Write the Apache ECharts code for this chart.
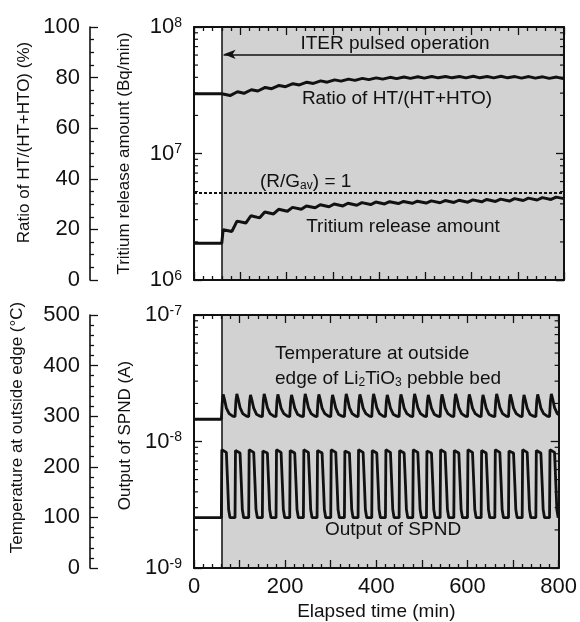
<!DOCTYPE html>
<html>
<head>
<meta charset="utf-8">
<script src="https://cdn.jsdelivr.net/npm/echarts@6/dist/echarts.min.js"></script>
<style>html,body{margin:0;padding:0;background:#fff}#chart{width:580px;height:622px}</style>
</head>
<body>
<div id="chart"></div>
<script>
var FONT = '"Liberation Sans", Arial, sans-serif';
var INK = '#111';

// elapsed time window and start of ITER pulsed operation (min)
var timeRange = [0, 800];
var pulseStart = 60;
var xTickLabels = [0, 200, 400, 600, 800];

// top panel: ratio HT/(HT+HTO) in %  [time, value]
var ratioData = [
    [0, 73.6], [60, 73.6],
    [64, 73.9], [78, 72.9], [94, 74.4], [108, 73.8], [124, 75.2], [138, 74.7],
    [154, 76.1], [168, 75.6], [184, 76.9], [198, 76.4], [214, 77.6], [228, 77.1],
    [244, 78.2], [258, 77.7], [274, 78.7], [288, 78.2], [304, 79.1], [318, 78.6],
    [334, 79.4], [348, 78.9], [364, 79.7], [378, 79.2], [394, 79.9], [408, 79.4],
    [424, 80.1], [438, 79.6], [454, 80.2], [468, 79.7], [484, 80.3], [498, 79.8],
    [514, 80.4], [528, 79.9], [544, 80.4], [558, 79.9], [574, 80.4], [588, 79.9],
    [604, 80.5], [618, 79.9], [634, 80.4], [648, 79.9], [664, 80.5], [678, 79.9],
    [694, 80.4], [708, 79.8], [724, 80.4], [738, 79.8], [754, 80.3], [768, 79.7],
    [784, 80.2], [798, 79.6], [800, 80.0]
];

// top panel: tritium release amount (Bq/min)
var tritiumData = [
    [0, 1.95e6], [60, 1.95e6],
    [63, 2.50e6], [82, 2.42e6], [93, 2.92e6], [112, 2.82e6], [123, 3.22e6], [142, 3.10e6],
    [153, 3.45e6], [172, 3.33e6], [183, 3.62e6], [202, 3.50e6], [213, 3.75e6], [232, 3.62e6],
    [243, 3.85e6], [262, 3.72e6], [273, 3.93e6], [292, 3.79e6], [303, 3.99e6], [322, 3.85e6],
    [333, 4.04e6], [352, 3.90e6], [363, 4.09e6], [382, 3.95e6], [393, 4.13e6], [412, 3.99e6],
    [423, 4.16e6], [442, 4.02e6], [453, 4.18e6], [472, 4.04e6], [483, 4.20e6], [502, 4.06e6],
    [513, 4.22e6], [532, 4.08e6], [543, 4.25e6], [562, 4.10e6], [573, 4.27e6], [592, 4.12e6],
    [603, 4.30e6], [622, 4.15e6], [633, 4.33e6], [652, 4.18e6], [663, 4.36e6], [682, 4.21e6],
    [693, 4.40e6], [712, 4.25e6], [723, 4.44e6], [742, 4.29e6], [753, 4.48e6], [772, 4.33e6],
    [783, 4.52e6], [800, 4.40e6]
];
var rgAvLevel = 4.87e6;   // (R/Gav) = 1
var arrowLevel = 89.2;    // height of the "ITER pulsed operation" arrow (% axis)
var arrowTip = 64;

// bottom panel: temperature at outside edge (deg C)
var tempData = [
    [0, 294], [60, 294], [62, 328], [64, 343], [67, 333], [71, 316], [77, 305], [85, 300],
    [90, 299], [92, 330], [94, 344], [97, 334], [101, 317], [107, 305], [115, 300],
    [120, 299], [122, 329], [124, 342], [127, 332], [131, 316], [137, 304], [145, 300],
    [150, 299], [152, 330], [154, 344], [157, 334], [161, 317], [167, 305], [175, 300],
    [180, 299], [182, 330], [184, 343], [187, 333], [191, 316], [197, 305], [205, 300],
    [210, 299], [212, 329], [214, 342], [217, 332], [221, 316], [227, 304], [235, 300],
    [240, 299], [242, 330], [244, 344], [247, 334], [251, 317], [257, 305], [265, 300],
    [270, 299], [272, 330], [274, 343], [277, 333], [281, 316], [287, 305], [295, 300],
    [300, 299], [302, 329], [304, 342], [307, 332], [311, 316], [317, 304], [325, 300],
    [330, 299], [332, 330], [334, 344], [337, 334], [341, 317], [347, 305], [355, 300],
    [360, 299], [362, 330], [364, 343], [367, 333], [371, 316], [377, 305], [385, 300],
    [390, 299], [392, 330], [394, 344], [397, 334], [401, 317], [407, 305], [415, 300],
    [420, 299], [422, 329], [424, 342], [427, 332], [431, 316], [437, 304], [445, 300],
    [450, 299], [452, 330], [454, 343], [457, 333], [461, 316], [467, 305], [475, 300],
    [480, 299], [482, 330], [484, 344], [487, 334], [491, 317], [497, 305], [505, 300],
    [510, 299], [512, 329], [514, 342], [517, 332], [521, 316], [527, 304], [535, 300],
    [540, 299], [542, 330], [544, 343], [547, 333], [551, 316], [557, 305], [565, 300],
    [570, 299], [572, 330], [574, 344], [577, 334], [581, 317], [587, 305], [595, 300],
    [600, 299], [602, 330], [604, 343], [607, 333], [611, 316], [617, 305], [625, 300],
    [630, 299], [632, 329], [634, 342], [637, 332], [641, 316], [647, 304], [655, 300],
    [660, 299], [662, 330], [664, 344], [667, 334], [671, 317], [677, 305], [685, 300],
    [690, 299], [692, 330], [694, 343], [697, 333], [701, 316], [707, 305], [715, 300],
    [720, 299], [722, 329], [724, 342], [727, 332], [731, 316], [737, 304], [745, 300],
    [750, 299], [752, 330], [754, 343], [757, 333], [761, 316], [767, 305], [775, 300],
    [780, 299], [782, 330], [784, 344], [787, 334], [791, 317], [797, 305], [800, 303]
];

// bottom panel: output of SPND (A)
var spndData = [
    [0, 2.5e-9],
    [60, 2.5e-9], [61, 8.6e-9], [63, 8.9e-9], [71, 8.2e-9], [74, 4.5e-9], [76, 2.9e-9], [79, 2.5e-9],
    [90, 2.5e-9], [91, 8.5e-9], [93, 8.8e-9], [101, 8.1e-9], [104, 4.5e-9], [106, 2.9e-9], [109, 2.5e-9],
    [120, 2.5e-9], [121, 8.6e-9], [123, 8.9e-9], [131, 8.2e-9], [134, 4.5e-9], [136, 2.9e-9], [139, 2.5e-9],
    [150, 2.5e-9], [151, 8.4e-9], [153, 8.7e-9], [161, 8.1e-9], [164, 4.5e-9], [166, 2.9e-9], [169, 2.5e-9],
    [180, 2.5e-9], [181, 8.6e-9], [183, 8.9e-9], [191, 8.2e-9], [194, 4.5e-9], [196, 2.9e-9], [199, 2.5e-9],
    [210, 2.5e-9], [211, 8.5e-9], [213, 8.8e-9], [221, 8.1e-9], [224, 4.5e-9], [226, 2.9e-9], [229, 2.5e-9],
    [240, 2.5e-9], [241, 8.6e-9], [243, 8.9e-9], [251, 8.2e-9], [254, 4.5e-9], [256, 2.9e-9], [259, 2.5e-9],
    [270, 2.5e-9], [271, 8.5e-9], [273, 8.8e-9], [281, 8.1e-9], [284, 4.5e-9], [286, 2.9e-9], [289, 2.5e-9],
    [300, 2.5e-9], [301, 8.6e-9], [303, 8.9e-9], [311, 8.2e-9], [314, 4.5e-9], [316, 2.9e-9], [319, 2.5e-9],
    [330, 2.5e-9], [331, 8.4e-9], [333, 8.7e-9], [341, 8.1e-9], [344, 4.5e-9], [346, 2.9e-9], [349, 2.5e-9],
    [360, 2.5e-9], [361, 8.6e-9], [363, 8.9e-9], [371, 8.2e-9], [374, 4.5e-9], [376, 2.9e-9], [379, 2.5e-9],
    [390, 2.5e-9], [391, 8.5e-9], [393, 8.8e-9], [401, 8.1e-9], [404, 4.5e-9], [406, 2.9e-9], [409, 2.5e-9],
    [420, 2.5e-9], [421, 8.6e-9], [423, 8.9e-9], [431, 8.2e-9], [434, 4.5e-9], [436, 2.9e-9], [439, 2.5e-9],
    [450, 2.5e-9], [451, 8.5e-9], [453, 8.8e-9], [461, 8.1e-9], [464, 4.5e-9], [466, 2.9e-9], [469, 2.5e-9],
    [480, 2.5e-9], [481, 8.6e-9], [483, 8.9e-9], [491, 8.2e-9], [494, 4.5e-9], [496, 2.9e-9], [499, 2.5e-9],
    [510, 2.5e-9], [511, 8.4e-9], [513, 8.7e-9], [521, 8.1e-9], [524, 4.5e-9], [526, 2.9e-9], [529, 2.5e-9],
    [540, 2.5e-9], [541, 8.6e-9], [543, 8.9e-9], [551, 8.2e-9], [554, 4.5e-9], [556, 2.9e-9], [559, 2.5e-9],
    [570, 2.5e-9], [571, 8.5e-9], [573, 8.8e-9], [581, 8.1e-9], [584, 4.5e-9], [586, 2.9e-9], [589, 2.5e-9],
    [600, 2.5e-9], [601, 8.6e-9], [603, 8.9e-9], [611, 8.2e-9], [614, 4.5e-9], [616, 2.9e-9], [619, 2.5e-9],
    [630, 2.5e-9], [631, 8.5e-9], [633, 8.8e-9], [641, 8.1e-9], [644, 4.5e-9], [646, 2.9e-9], [649, 2.5e-9],
    [660, 2.5e-9], [661, 8.6e-9], [663, 8.9e-9], [671, 8.2e-9], [674, 4.5e-9], [676, 2.9e-9], [679, 2.5e-9],
    [690, 2.5e-9], [691, 8.4e-9], [693, 8.7e-9], [701, 8.1e-9], [704, 4.5e-9], [706, 2.9e-9], [709, 2.5e-9],
    [720, 2.5e-9], [721, 8.6e-9], [723, 8.9e-9], [731, 8.2e-9], [734, 4.5e-9], [736, 2.9e-9], [739, 2.5e-9],
    [750, 2.5e-9], [751, 8.5e-9], [753, 8.8e-9], [761, 8.1e-9], [764, 4.5e-9], [766, 2.9e-9], [769, 2.5e-9],
    [780, 2.5e-9], [781, 8.6e-9], [783, 8.9e-9], [791, 8.2e-9], [794, 4.5e-9], [796, 2.9e-9], [799, 2.5e-9],
    [800, 2.5e-9]
];

// minor ticks of the log axes (2..9 per decade)
var tritiumMinorTicks = [2e6, 3e6, 4e6, 5e6, 6e6, 7e6, 8e6, 9e6, 2e7, 3e7, 4e7, 5e7, 6e7, 7e7, 8e7, 9e7];
var spndMinorTicks = [2e-9, 3e-9, 4e-9, 5e-9, 6e-9, 7e-9, 8e-9, 9e-9, 2e-8, 3e-8, 4e-8, 5e-8, 6e-8, 7e-8, 8e-8, 9e-8];

var chart = echarts.init(document.getElementById('chart'));

var tickStyle = { color: INK, width: 1.3 };

function xAxisDef(grid, pos, labels, name) {
    return {
        type: 'value', gridIndex: grid, position: pos, min: timeRange[0], max: timeRange[1], interval: 100, z: 5,
        axisLine: { show: true, onZero: false, lineStyle: { color: INK, width: 2 } },
        axisTick: { show: true, inside: true, length: 8, lineStyle: tickStyle },
        minorTick: { show: true, splitNumber: 5, length: 4, lineStyle: tickStyle },
        splitLine: { show: false },
        axisLabel: {
            show: labels, margin: 8, color: INK, fontSize: 22, fontFamily: FONT,
            formatter: function (v) { return xTickLabels.indexOf(v) >= 0 ? String(v) : ''; }
        },
        name: name || '', nameLocation: 'middle', nameGap: 34,
        nameTextStyle: { color: INK, fontSize: 19, fontFamily: FONT }
    };
}

function logAxisDef(grid, pos, min, max, labels, name, gap, pad) {
    return {
        type: 'log', logBase: 10, gridIndex: grid, position: pos, min: min, max: max, z: 5,
        axisLine: { show: true, onZero: false, lineStyle: { color: INK, width: 2 } },
        axisTick: { show: true, inside: true, length: 8, lineStyle: tickStyle },
        splitLine: { show: false },
        axisLabel: {
            show: labels, margin: 12,
            formatter: function (v) { return '{b|10}{s|' + Math.round(Math.log10(v)) + '}'; },
            rich: {
                b: { fontSize: 22, fontFamily: FONT, color: INK },
                s: { fontSize: 14, fontFamily: FONT, color: INK, verticalAlign: 'top' }
            }
        },
        name: name || '', nameLocation: 'middle', nameGap: gap || 0, nameRotate: 90,
        nameTextStyle: { color: INK, fontSize: 17, fontFamily: FONT, padding: pad || 0 }
    };
}

function linAxisDef(grid, max, interval, minorSplit, name, gap, pad) {
    return {
        type: 'value', gridIndex: grid, position: 'left', offset: 104, min: 0, max: max, interval: interval, z: 5,
        axisLine: { show: true, onZero: false, lineStyle: { color: INK, width: 1.6 } },
        axisTick: { show: true, inside: true, length: 8, lineStyle: tickStyle },
        minorTick: { show: true, splitNumber: minorSplit, length: 4, lineStyle: tickStyle },
        splitLine: { show: false },
        axisLabel: { margin: 10, color: INK, fontSize: 22, fontFamily: FONT },
        name: name, nameLocation: 'middle', nameGap: gap, nameRotate: 90,
        nameTextStyle: { color: INK, fontSize: 17, fontFamily: FONT, padding: pad || 0 }
    };
}

function minorTickSeries(xIdx, yIdx, vals) {
    return {
        type: 'custom', xAxisIndex: xIdx, yAxisIndex: yIdx, silent: true, z: 6,
        data: vals.map(function (v) { return [timeRange[0], v]; }),
        renderItem: function (params, api) {
            var a = api.coord([timeRange[0], api.value(1)]);
            var b = api.coord([timeRange[1], api.value(1)]);
            return {
                type: 'group', children: [
                    { type: 'line', shape: { x1: a[0], y1: a[1], x2: a[0] + 4, y2: a[1] }, style: { stroke: INK, lineWidth: 1.2 } },
                    { type: 'line', shape: { x1: b[0] - 4, y1: b[1], x2: b[0], y2: b[1] }, style: { stroke: INK, lineWidth: 1.2 } }
                ]
            };
        }
    };
}

var shade = {
    silent: true, itemStyle: { color: '#d2d2d2' },
    data: [[{ xAxis: pulseStart }, { xAxis: timeRange[1] }]]
};

function textEl(x, y, text, rich, align) {
    return {
        type: 'text', x: x, y: y, z: 10,
        style: {
            text: text, fill: INK, fontSize: 19, fontFamily: FONT,
            align: align || 'center', verticalAlign: 'middle', rich: rich || {}
        }
    };
}
var subRich = { sub: { fontSize: 12, fontFamily: FONT, fill: INK, verticalAlign: 'bottom', lineHeight: 12 } };

var option = {
    backgroundColor: '#fff',
    animation: false,
    grid: [
        { left: 194, top: 27, width: 370, height: 253 },
        { left: 194, top: 315, width: 370, height: 253 }
    ],
    xAxis: [
        xAxisDef(0, 'bottom', false),
        xAxisDef(0, 'top', false),
        xAxisDef(1, 'bottom', true, 'Elapsed time (min)'),
        xAxisDef(1, 'top', false)
    ],
    yAxis: [
        logAxisDef(0, 'left', 1e6, 1e8, true, 'Tritium release amount (Bq/min)', 61),
        logAxisDef(0, 'right', 1e6, 1e8, false),
        linAxisDef(0, 100, 20, 4, 'Ratio of HT/(HT+HTO) (%)', 55, [0, 0, 0, 22]),
        logAxisDef(1, 'left', 1e-9, 1e-7, true, 'Output of SPND (A)', 51, [0, 0, 0, 12]),
        logAxisDef(1, 'right', 1e-9, 1e-7, false),
        linAxisDef(1, 500, 100, 5, 'Temperature at outside edge (\u00b0C)', 64, [0, 0, 0, 28])
    ],
    series: [
        {
            type: 'line', xAxisIndex: 0, yAxisIndex: 2, data: ratioData,
            showSymbol: false, lineStyle: { color: INK, width: 3 }, z: 3,
            markArea: shade,
            markLine: {
                silent: true, symbol: 'none', label: { show: false },
                lineStyle: { color: INK, width: 1.5, type: 'solid' },
                data: [
                    { xAxis: pulseStart },
                    [
                        { coord: [timeRange[1], arrowLevel], symbol: 'none' },
                        { coord: [arrowTip, arrowLevel], symbol: 'arrow', symbolSize: [7, 12] }
                    ]
                ]
            }
        },
        {
            type: 'line', xAxisIndex: 0, yAxisIndex: 0, data: tritiumData,
            showSymbol: false, lineStyle: { color: INK, width: 3 }, z: 3,
            markLine: {
                silent: true, symbol: 'none', label: { show: false },
                lineStyle: { color: INK, width: 2, type: [3, 2] },
                data: [{ yAxis: rgAvLevel }]
            }
        },
        {
            type: 'line', xAxisIndex: 2, yAxisIndex: 5, data: tempData,
            showSymbol: false, lineStyle: { color: INK, width: 2.8 }, z: 3,
            markArea: shade
        },
        {
            type: 'line', xAxisIndex: 2, yAxisIndex: 3, data: spndData,
            showSymbol: false, lineStyle: { color: INK, width: 2.8 }, z: 3,
            markLine: {
                silent: true, symbol: 'none', label: { show: false },
                lineStyle: { color: INK, width: 1.5, type: 'solid' },
                data: [{ xAxis: pulseStart }]
            }
        },
        minorTickSeries(0, 0, tritiumMinorTicks),
        minorTickSeries(2, 3, spndMinorTicks)
    ],
    graphic: [
        textEl(395, 44, 'ITER pulsed operation'),
        textEl(397, 99, 'Ratio of HT/(HT+HTO)'),
        textEl(260, 182, '(R/G{sub|av}) = 1', subRich, 'left'),
        textEl(403, 227, 'Tritium release amount'),
        textEl(275, 354, 'Temperature at outside', null, 'left'),
        textEl(275, 379, 'edge of Li{sub|2}TiO{sub|3} pebble bed', subRich, 'left'),
        textEl(393, 530, 'Output of SPND')
    ]
};

chart.setOption(option);
</script>
</body>
</html>
